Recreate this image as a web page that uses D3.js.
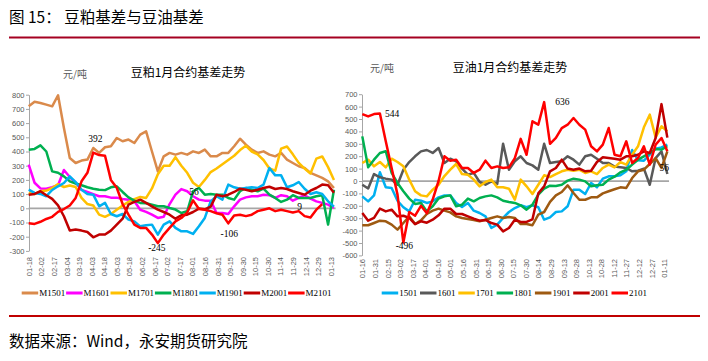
<!DOCTYPE html>
<html>
<head>
<meta charset="utf-8">
<title>豆粕基差与豆油基差</title>
<script src="https://cdn.jsdelivr.net/npm/d3@7"></script>
<style>
  body { margin: 0; background: #fff; }
  svg { display: block; }
  text { font-family: "Liberation Sans", Arial, sans-serif; }
  .cjk { font-family: "Noto Sans CJK SC", sans-serif; }
  .serif { font-family: "Liberation Serif", "Times New Roman", serif; }
</style>
</head>
<body>
<div id="chart"></div>
<script>
// x = days since the first tick date, one reading per week
const days = [0, 7, 14, 21, 28, 35, 42, 49, 56, 63, 70, 77, 84, 91, 98, 105, 112, 119, 126, 133,
  140, 147, 154, 161, 168, 175, 182, 189, 196, 203, 210, 217, 224, 231, 238, 245, 252, 259, 266,
  273, 280, 287, 294, 301, 308, 315, 322, 329, 336, 343, 350, 357, 364];

const mealTicks = ["01-18", "02-02", "02-17", "03-04", "03-19", "04-03", "04-18", "05-03", "05-18",
  "06-02", "06-17", "07-02", "07-17", "08-01", "08-16", "08-31", "09-15", "09-30", "10-15", "10-30",
  "11-14", "11-29", "12-14", "12-29", "01-13"];
const oilTicks = ["01-16", "01-31", "02-15", "03-02", "03-17", "04-01", "04-16", "05-01", "05-16",
  "05-31", "06-15", "06-30", "07-15", "07-30", "08-14", "08-29", "09-13", "09-28", "10-13", "10-28",
  "11-12", "11-27", "12-12", "12-27", "01-11"];

// 豆粕 basis
const m1501 = [718, 750, 742, 730, 718, 796, 566, 354, 319, 336, 343, 425, 390, 430, 437, 495, 472, 484, 460, 519, 542, 400, 260, 366, 390, 378, 390,
  378, 401, 390, 413, 366, 366, 390, 390, 437, 490, 448, 413, 390, 401, 378, 366, 390, 343, 319, 296, 284, 249, 232, 214, 190, 143];
const m1601 = [307, 180, 140, 138, 148, 162, 270, 220, 180, 130, 115, 100, 85, 85, 75, 75, 65, 60, 50, -10, -25, -45, -68, -60, 30, 96, 135,
  120, 85, 61, 54, 54, -33, -33, -40, 14, 61, 77, 85, 85, 96, 92, 73, 92, 85, 54, 73, 92, 68, 49, 38, 26, 2];
const m1701 = [108, 100, 120, 125, 143, 170, 150, 160, 150, 73, 30, 20, -45, -60, -40, -10, 20, 45, 65, 80, 73, 140, 240, 300, 300, 360, 300,
  250, 180, 150, 200, 255, 280, 310, 340, 370, 410, 440, 400, 380, 340, 280, 265, 420, 435, 380, 320, 280, 245, 350, 365, 290, 200];
const m1801 = [413, 418, 443, 400, 260, 250, 225, 190, 175, 162, 148, 138, 131, 128, 148, 155, 115, 77, 54, 38, 36, 26, 14, 14, 2, -9, -33,
  -21, 120, 143, 96, 100, 96, 96, 73, 61, 120, 143, 131, 120, 138, 96, 73, 45, 61, 92, 73, 73, 73, 85, 92, -115, 131];
const m1901 = [131, 108, 101, 85, 129, 155, 178, 225, 185, 131, 101, 96, 14, 38, -40, -56, -40, -80, -92, -127, -120, -115, -185, -115, -92, -138, -162,
  -162, -180, -127, -68, 49, 85, 61, 167, 148, 138, 143, 148, 143, 167, 284, 232, 232, 148, 162, 185, 138, 101, 113, 101, 49, 12];
const m2001 = [96, 101, 120, 92, 66, 21, -56, -157, -150, -157, -167, -204, -185, -185, -157, -115, -73, 26, 45, 61, 38, 14, -9, -26, -45, -73, -49,
  -45, -26, -2, -7, 12, 96, 85, 96, 115, 138, 131, 120, 131, 143, 152, 136, 143, 136, 120, 108, 96, 124, 143, 167, 162, 110];
const m2101 = [-105, -110, -95, -75, -60, -25, -5, 20, 73, 190, 250, 392, 375, 370, 200, 145, 30, -45, -115, -138, -138, -185, -245, -185, -138, -92, -68,
  -30, 56, -5, -10, -20, -35, -45, -106, -50, -45, -55, -45, -20, -10, 0, -20, -10, -20, -30, -20, -55, -65, -10, 30];

// 豆油 basis
const y1501 = [-124, -164, -116, 70, -51, -56, -159, -212, -245, -151, -159, -177, -164, -132, -116, -116, -177, -210, -177, -239, -258, -285, -379, -352, -298, -250, -218,
  -196, -212, -196, -212, -312, -293, -250, -245, -204, -70, -70, -105, -16, -51, 19, 38, 38, 46, 78, 250, 167, 164, 212, 261, 271, 293];
const y1601 = [-30, -60, 56, 30, 19, 11, -30, 91, 153, 199, 239, 250, 226, 266, 145, 180, 159, 100, 51, 65, -8, -30, -3, -24, 300, 91, 159,
  199, 145, 126, 91, 300, 145, 153, 159, 199, 172, 132, 199, 212, 180, 145, 145, 116, 110, 105, 78, 83, 100, -30, 185, 239, 56];
const y1701 = [145, 172, 118, 153, 110, 180, 153, 118, 11, -83, -116, -124, -70, -30, 40, 91, 137, 56, 51, 11, -43, -8, 11, -51, -51, -62, -150,
  11, -43, -105, -30, 46, 32, 56, 78, 91, 83, 91, 65, 78, 56, 105, 132, 110, 153, 132, 212, 280, 433, 535, 352, 441, 400];
const y1801 = [360, 110, 172, 226, 240, 65, -16, -83, -142, -185, -177, -245, -204, -142, -124, -116, -204, -191, -142, -164, -137, -124, -116, -132, -159, -169, -177,
  -196, -231, -191, -110, -62, -38, -40, -30, 3, 19, 11, -3, -43, -35, -30, 11, 35, 70, 91, 132, 172, 199, 226, 258, 253, 280];
const y1901 = [-357, -357, -339, -320, -325, -352, -392, -339, -285, -347, -317, -266, -239, -223, -239, -253, -285, -298, -306, -314, -325, -312, -298, -285, -298, -290, -298,
  -347, -347, -357, -271, -250, -169, -116, -89, -35, -97, -151, -151, -132, -132, -100, -83, -67, -51, -56, 24, 78, 91, 137, 185, 105, 239];
const y2001 = [-258, -320, -298, -223, -245, -231, -285, -280, -298, -347, -325, -336, -312, -277, -223, -223, -266, -266, -285, -304, -320, -314, -339, -352, -406, -379, -312,
  -330, -330, -310, -100, -43, 78, 105, 172, 100, 91, 100, 78, 83, 153, 191, 185, 180, 172, 199, 199, 212, 239, 226, 347, 620, 350];
const y2101 = [540, 521, 540, 544, 320, 105, -110, -496, -250, -280, -200, -260, -150, 0, 199, 164, 172, 105, 105, 65, 91, 164, 105, 118, 105, 110, 185,
  340, 212, 481, 454, 636, 300, 347, 427, 454, 508, 454, 414, 280, 239, 293, 427, 212, 199, 320, 145, 185, 280, 132, 293, 347, 239];

const mealNames = ["M1501", "M1601", "M1701", "M1801", "M1901", "M2001", "M2101"];
const oilNames = ["1501", "1601", "1701", "1801", "1901", "2001", "2101"];

// labelled points: [day, value]
const mealNotes = [[77, 392], [196, 56], [154, -245], [238, -106], [322, 9]];
const oilNotes = [[21, 544], [49, -496], [217, 636], [364, 56]];

const mealColors = ["#da8a4b", "#ff00ff", "#ffc000", "#00b050", "#00b0f0", "#c00000", "#ff0000"];
const oilColors = ["#00b0f0", "#595959", "#ffc000", "#00b050", "#9e5a12", "#c00000", "#ff0000"];

const svg = d3.select("#chart").append("svg").attr("width", 708).attr("height", 361);

// header / footer
svg.append("text").attr("class", "cjk").attr("x", 9).attr("y", 22.5)
  .style("font-size", "15.5px").attr("fill", "#000").text("图 15： 豆粕基差与豆油基差");
svg.append("line").attr("x1", 9).attr("x2", 700).attr("y1", 37.5).attr("y2", 37.5)
  .attr("stroke", "#a50021").attr("stroke-width", 2);
svg.append("line").attr("x1", 9).attr("x2", 700).attr("y1", 316).attr("y2", 316)
  .attr("stroke", "#c00000").attr("stroke-width", 2);
svg.append("text").attr("class", "cjk").attr("x", 9).attr("y", 346.5)
  .style("font-size", "15.5px").attr("fill", "#000").text("数据来源：Wind，永安期货研究院");

function drawPanel(p) {
  const x = d3.scaleLinear().domain([0, 360]).range(p.xRange);
  const y = d3.scaleLinear().domain(p.yDomain).range(p.yRange);
  const g = svg.append("g");

  // y axis
  g.append("g")
    .attr("transform", "translate(" + Math.round(p.xRange[0]) + ",0)")
    .call(d3.axisLeft(y)
      .tickValues(d3.range(p.yDomain[0], p.yDomain[1] + 1, 100))
      .tickFormat(d => String(d))
      .tickSize(3).tickSizeOuter(0).tickPadding(1.5))
    .call(s => s.select(".domain").attr("stroke", "#a6a6a6"))
    .call(s => s.selectAll(".tick line").attr("stroke", "#a6a6a6"))
    .call(s => s.selectAll("text").attr("fill", "#595959").style("font-size", "7.5px"));

  // zero line
  g.append("line")
    .attr("x1", x(0)).attr("x2", x(366))
    .attr("y1", y(0)).attr("y2", y(0))
    .attr("stroke", "#a6a6a6").attr("stroke-width", 1.75);

  // date labels at the bottom, rotated
  g.append("g")
    .attr("transform", "translate(0," + p.labelTop + ")")
    .call(d3.axisBottom(x)
      .tickValues(p.ticks.map((t, i) => i * 15))
      .tickFormat((d, i) => p.ticks[i])
      .tickSize(0))
    .call(s => s.select(".domain").remove())
    .selectAll("text")
    .attr("transform", "rotate(-90)")
    .attr("x", 0).attr("y", 0).attr("dy", "0.35em")
    .style("text-anchor", "end")
    .style("font-size", "7.5px")
    .attr("fill", "#595959");

  // lines
  const line = d3.line()
    .x((d, i) => x(days[i]))
    .y(d => y(d));
  g.selectAll(".series")
    .data(p.series)
    .enter()
    .append("path")
    .attr("fill", "none")
    .attr("stroke", (d, i) => p.colors[i])
    .attr("stroke-width", 2.5)
    .attr("stroke-linejoin", "round")
    .attr("d", d => line(d));

  // point labels
  g.selectAll(".note")
    .data(p.notes)
    .enter()
    .append("text")
    .attr("class", "serif")
    .attr("x", (d, i) => x(d[0]) + p.noteOffsets[i][0])
    .attr("y", (d, i) => y(d[1]) + p.noteOffsets[i][1])
    .attr("text-anchor", (d, i) => p.noteOffsets[i][2])
    .style("font-size", "9.5px")
    .attr("fill", "#000")
    .text(d => String(d[1]));

  // titles
  g.append("text").attr("class", "cjk")
    .attr("x", p.unitPos[0]).attr("y", p.unitPos[1])
    .style("font-size", "10px").attr("fill", "#595959").text("元/吨");
  g.append("text").attr("class", "cjk")
    .attr("x", p.titlePos[0]).attr("y", p.titlePos[1])
    .attr("text-anchor", "middle")
    .style("font-size", "12px").attr("fill", "#000").text(p.title);

  // legend
  const leg = g.selectAll(".leg")
    .data(p.names)
    .enter()
    .append("g")
    .attr("transform", (d, i) => "translate(" + (p.legendX + i * p.legendStep) + "," + p.legendY + ")");
  leg.append("line")
    .attr("x1", 0).attr("x2", 16.5)
    .attr("stroke", (d, i) => p.colors[i])
    .attr("stroke-width", 3);
  leg.append("text")
    .attr("class", "serif")
    .attr("x", 17.5).attr("y", 3.2)
    .style("font-size", "9px")
    .attr("fill", "#000")
    .text(d => d);
}

drawPanel({
  xRange: [28.7, 330.6],
  yDomain: [-300, 800],
  yRange: [250.9, 94.7],
  labelTop: 257,
  ticks: mealTicks,
  series: [m1501, m1601, m1701, m1801, m1901, m2001, m2101],
  colors: mealColors,
  names: mealNames,
  notes: mealNotes,
  noteOffsets: [[2, -11, "middle"], [1, -5, "middle"], [-1, 8, "middle"], [1, 14, "middle"], [1, 3, "middle"]],
  unitPos: [63, 77.5],
  titlePos: [188, 76.5],
  title: "豆粕1月合约基差走势",
  legendX: 21.7,
  legendStep: 44.4,
  legendY: 293
});

drawPanel({
  xRange: [362.3, 664],
  yDomain: [-600, 700],
  yRange: [255.4, 94.2],
  labelTop: 259,
  ticks: oilTicks,
  series: [y1501, y1601, y1701, y1801, y1901, y2001, y2101],
  colors: oilColors,
  names: oilNames,
  notes: oilNotes,
  noteOffsets: [[5, 3, "start"], [1, 6, "middle"], [11, 3, "start"], [-3, -3, "middle"]],
  unitPos: [370, 71.5],
  titlePos: [510, 71.5],
  title: "豆油1月合约基差走势",
  legendX: 381.7,
  legendStep: 38.3,
  legendY: 293
});
</script>
</body>
</html>
